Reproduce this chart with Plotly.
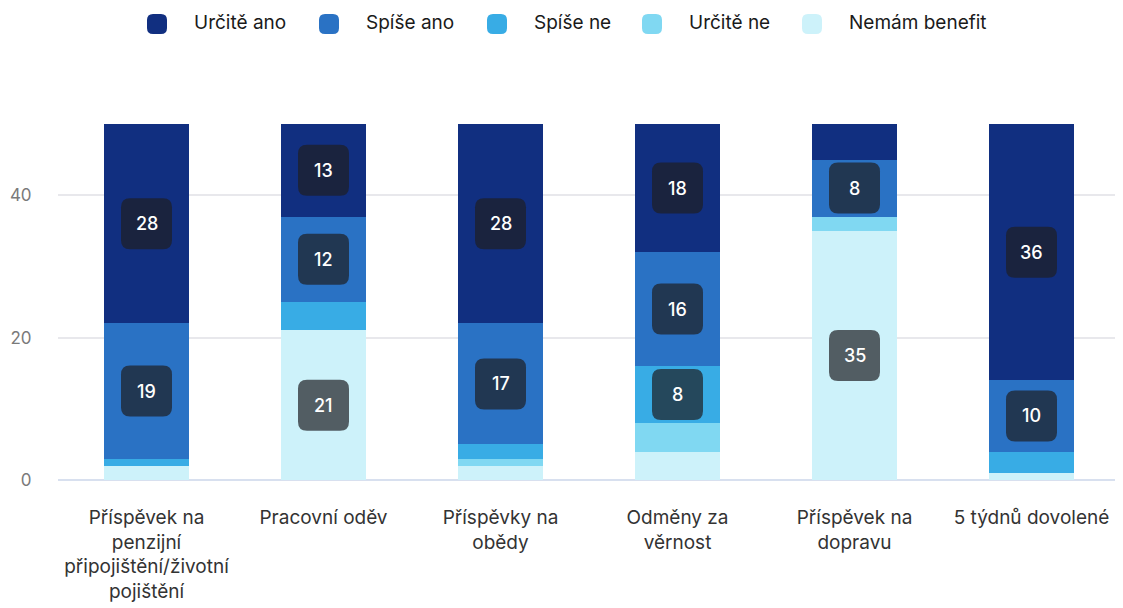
import plotly.graph_objects as go

categories = [
    "Příspěvek na<br>penzijní<br>připojištění/životní<br>pojištění",
    "Pracovní oděv",
    "Příspěvky na<br>obědy",
    "Odměny za<br>věrnost",
    "Příspěvek na<br>dopravu",
    "5 týdnů dovolené",
]

# stacked from bottom to top
series_names = ["Nemám benefit", "Určitě ne", "Spíše ne", "Spíše ano", "Určitě ano"]
nemam_benefit = [2, 21, 2, 4, 35, 1]
urcite_ne = [0, 0, 1, 4, 2, 0]
spise_ne = [1, 4, 2, 8, 0, 3]
spise_ano = [19, 12, 17, 16, 8, 10]
urcite_ano = [28, 13, 28, 18, 5, 36]
series_values = [nemam_benefit, urcite_ne, spise_ne, spise_ano, urcite_ano]
colors = ["#cdf2fa", "#80d8f2", "#38ace5", "#2a72c4", "#112f80"]
y_ticks = [0, 20, 40]
label_threshold = 8

# page offset (browser body margin) compensation and plot geometry
OFF = 8
W, H = 1123, 608
ML, MR, MT, MB = 58 - OFF, 3 + OFF, 124 - OFF, 128 + OFF
PW, PH = W - ML - MR, H - MT - MB


def px_x(sx):
    return (sx - OFF - ML) / PW


def px_y(sy):
    return (H - MB + OFF - sy) / PH


def rounded(hw, hh, r):
    return (f"M {-hw+r},{-hh} L {hw-r},{-hh} Q {hw},{-hh} {hw},{-hh+r} "
            f"L {hw},{hh-r} Q {hw},{hh} {hw-r},{hh} L {-hw+r},{hh} "
            f"Q {-hw},{hh} {-hw},{hh-r} L {-hw},{-hh+r} Q {-hw},{-hh} {-hw+r},{-hh} Z")


fig = go.Figure()
for name, vals, col in zip(series_names, series_values, colors):
    fig.add_trace(go.Bar(
        x=categories, y=vals, name=name,
        marker=dict(color=col, line=dict(width=0)),
        hoverinfo="skip", showlegend=False,
    ))

shapes = []
annotations = []
box = rounded(25.5, 25.5, 9)
for i, cat in enumerate(categories):
    base = 0
    for vals in series_values:
        v = vals[i]
        if v >= label_threshold:
            mid = base + v / 2
            shapes.append(dict(
                type="path", xref="x", yref="y",
                xsizemode="pixel", ysizemode="pixel",
                xanchor=i, yanchor=mid, path=box,
                fillcolor="rgba(30,30,34,0.7)", line=dict(width=0),
                layer="above",
            ))
            annotations.append(dict(
                x=i, y=mid, xref="x", yref="y", text=str(v),
                showarrow=False,
                font=dict(family="Inter", size=18, color="white", weight=500),
            ))
        base += v

# custom legend (top, left-to-right order reversed from stacking)
legend_text_x = [195, 367, 535, 690, 850]
legend_y = 24
marker = rounded(10, 10, 6)
for (name, col), tx in zip(list(zip(series_names, colors))[::-1], legend_text_x):
    shapes.append(dict(
        type="path", xref="paper", yref="paper",
        xsizemode="pixel", ysizemode="pixel",
        xanchor=px_x(tx - 38), yanchor=px_y(legend_y), path=marker,
        fillcolor=col, line=dict(width=0),
    ))
    annotations.append(dict(
        x=px_x(tx - 3), y=px_y(legend_y - 2), xref="paper", yref="paper",
        xanchor="left", yanchor="middle", text=name, showarrow=False,
        font=dict(family="Inter", size=19, color="#1a1a1a"),
    ))

fig.update_layout(
    barmode="stack",
    bargap=0.52,
    width=W, height=H,
    margin=dict(l=ML, r=MR, t=MT, b=MB, autoexpand=False),
    paper_bgcolor="white", plot_bgcolor="white",
    font=dict(family="Inter", size=19, color="#222"),
    shapes=shapes,
    annotations=annotations,
    showlegend=False,
    xaxis=dict(
        type="category", showgrid=False, showline=False, zeroline=False,
        automargin=False,
        ticks="outside", ticklen=20, tickcolor="rgba(0,0,0,0)",
        tickfont=dict(family="Inter", size=19, color="#333"),
    ),
    yaxis=dict(
        range=[0, 50], tickvals=y_ticks, showgrid=True, gridcolor="#e8e8ec",
        gridwidth=1.5, automargin=False,
        zeroline=True, zerolinecolor="#d8e0ef", zerolinewidth=2, showline=False,
        ticks="outside", ticklen=22, tickcolor="rgba(0,0,0,0)",
        tickfont=dict(family="Inter", size=17, color="#7a7a7a"),
    ),
)

fig.write_html("out.html")
